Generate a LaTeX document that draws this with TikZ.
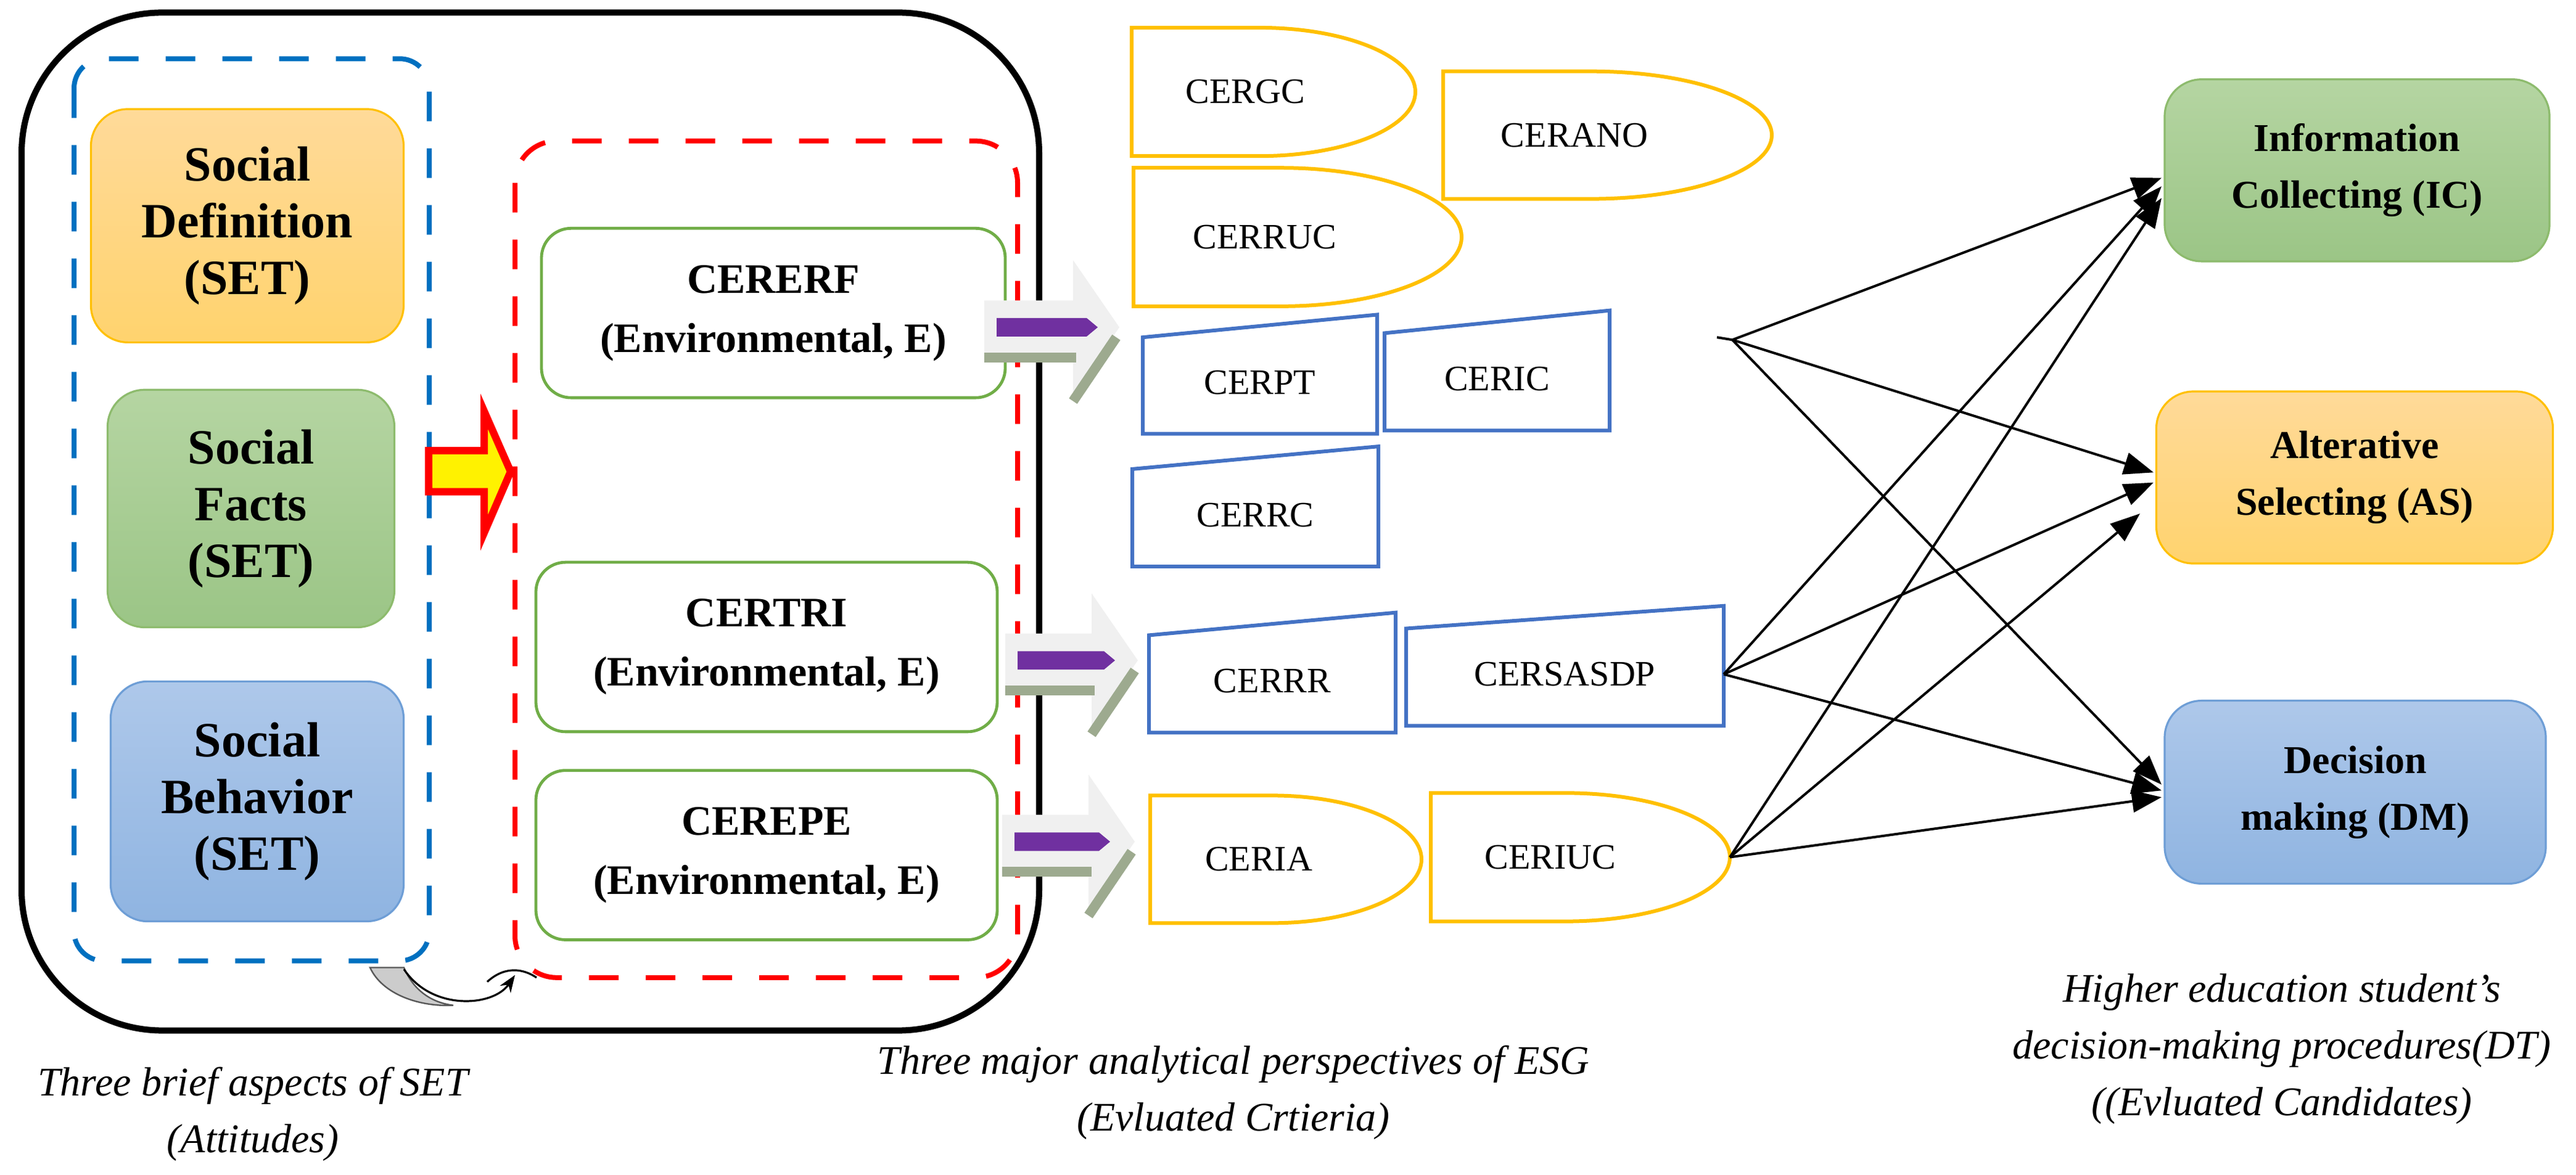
\documentclass[tikz,border=0pt]{standalone}
\usepackage{fontspec}
\setmainfont{Liberation Serif}
\usetikzlibrary{arrows.meta}
\definecolor{ygold}{HTML}{FFC000}
\definecolor{bblue}{HTML}{4472C4}
\definecolor{gedge}{HTML}{70AD47}
\definecolor{purp}{HTML}{7030A0}
\definecolor{shad}{HTML}{9DAA8F}
\newcommand{\dsh}[6]{%
 \pgfmathsetmacro\xa{#2+0.45*(#4-#2)}\pgfmathsetmacro\rr{#4-\xa}%
 \pgfmathsetmacro\ym{(#3+#5)/2}\pgfmathsetmacro\hh{(#5-#3)/2}%
 \draw[dbox] (#2,#3) -- (\xa,#3) .. controls ({\xa+0.5523*\rr},#3) and (#4,{\ym-0.5523*\hh}) .. (#4,\ym)
   .. controls (#4,{\ym+0.5523*\hh}) and ({\xa+0.5523*\rr},#5) .. (\xa,#5) -- (#2,#5) -- cycle;
 \node[lab] (#1) at ({#2+0.4*(#4-#2)},\ym) {#6};
 \coordinate (#1-r) at (#4,\ym);}
\newcommand{\tsh}[6]{%
 \draw[tbox] (#2,{#3+27}) -- (#4,#3) -- (#4,#5) -- (#2,#5) -- cycle;
 \node[lab] (#1) at ({(#2+#4)/2},{(#3+#5)/2+10}) {#6};
 \coordinate (#1-r) at (#4,{(#3+#5)/2+10});}
\newcommand{\garr}[4]{% x0, y, tip, purple end
 \fill[gray!12] (#1,{#2-32}) -- ({#3-75},{#2-32}) -- ({#3-75},{#2-80}) -- (#3,#2) -- ({#3-75},{#2+80}) -- ({#3-75},{#2+32}) -- (#1,{#2+32}) -- cycle;
 \draw[shad,line width=4pt] (#1,{#2+36}) -- ({#3-70},{#2+36});
 \draw[shad,line width=4pt] ({#3-75},{#2+88}) -- ({#3-5},{#2+12});
 \fill[purp] ({#1+20},{#2-11}) -- ({#4-18},{#2-11}) -- (#4,#2) -- ({#4-18},{#2+11}) -- ({#1+20},{#2+11}) -- cycle;}
\begin{document}
\begin{tikzpicture}[x=0.25pt,y=-0.3403pt,
 sbox/.style={rounded corners=15pt,line width=0.8pt,align=center,font=\fontsize{20}{23}\selectfont\bfseries},
 dbx/.style={sbox,font=\fontsize{16}{23}\selectfont\bfseries},
 ebox/.style={draw=gedge,rounded corners=12pt,line width=1.2pt,align=center,minimum width=187pt,minimum height=68.7pt,font=\fontsize{17}{24}\selectfont\bfseries},
 dbox/.style={draw=ygold,line width=1.5pt},
 tbox/.style={draw=bblue,line width=1.5pt},
 lab/.style={font=\fontsize{14.5}{17}\selectfont},
 captxt/.style={font=\fontsize{16.5}{23}\selectfont\itshape,align=center},
 con/.style={line width=1pt,-{Triangle[length=12pt,width=9pt]}}]
\useasboundingbox (0,0) rectangle (4177,1400);
% outer boxes
\draw[line width=2.5pt,rounded corners=57pt] (35,15) rectangle (1685,1228);
\draw[draw={rgb,255:red,0;green,112;blue,192},line width=2pt,dash pattern=on 12pt off 11pt,rounded corners=12pt] (120,70) rectangle (696,1145);
\draw[red,line width=2pt,dash pattern=on 12pt off 11pt,rounded corners=17pt] (835,168) rectangle (1650,1165);
% social boxes
\node[sbox,draw=ygold,top color={rgb,255:red,255;green,218;blue,153},bottom color={rgb,255:red,255;green,211;blue,110},minimum width=126.75pt,minimum height=94.6pt] (sd) at (401,269) {Social\\Definition\\(SET)};
\node[sbox,draw={rgb,255:red,141;green,187;blue,109},top color={rgb,255:red,181;green,213;blue,162},bottom color={rgb,255:red,155;green,197;blue,134},minimum width=116.25pt,minimum height=96.3pt] (sf) at (407,606) {Social\\Facts\\(SET)};
\node[sbox,draw={rgb,255:red,110;green,158;blue,214},top color={rgb,255:red,174;green,200;blue,234},bottom color={rgb,255:red,143;green,180;blue,225},minimum width=118.75pt,minimum height=97.3pt] (sb) at (417,955) {Social\\Behavior\\(SET)};
% E boxes
\node[ebox,minimum width=188pt] (e1) at (1254,373) {CERERF\\(Environmental, E)};
\node[ebox] (e2) at (1243,771) {CERTRI\\(Environmental, E)};
\node[ebox] (e3) at (1243,1019) {CEREPE\\(Environmental, E)};
% yellow arrow
\draw[red,fill=yellow,line width=3pt,line join=miter] (695,537)--(785,537)--(785,490)--(828,562)--(785,635)--(785,586)--(695,586)--cycle;
% curved grey arrow
\draw[fill=gray!40,draw=gray!70!black,line width=0.6pt] (600,1153) -- (655,1153) .. controls (670,1180) and (700,1195) .. (735,1198) .. controls (680,1200) and (620,1185) .. (600,1153) -- cycle;
\draw[line width=0.8pt,-{Stealth[length=7pt]}] (655,1155) .. controls (700,1205) and (800,1200) .. (835,1162);
\draw[line width=0.8pt] (790,1170) .. controls (820,1150) and (850,1155) .. (870,1165);
% block arrows
\garr{1596}{390}{1815}{1780}
\garr{1630}{787}{1845}{1808}
\garr{1625}{1003}{1840}{1800}
% criteria shapes
\dsh{gc}{1835}{33}{2295}{186}{CERGC}
\dsh{ano}{2340}{85}{2873}{237}{CERANO}
\dsh{ruc}{1838}{200}{2370}{365}{CERRUC}
\tsh{pt}{1853}{375}{2233}{517}{CERPT}
\tsh{ic}{2245}{370}{2610}{513}{CERIC}
\tsh{rc}{1836}{532}{2235}{675}{CERRC}
\tsh{rr}{1863}{730}{2263}{873}{CERRR}
\tsh{sasdp}{2280}{722}{2795}{865}{CERSASDP}
\dsh{ia}{1865}{948}{2305}{1100}{CERIA}
\dsh{iuc}{2320}{945}{2805}{1098}{CERIUC}
% DT boxes
\node[dbx,draw={rgb,255:red,141;green,187;blue,109},top color={rgb,255:red,181;green,213;blue,162},bottom color={rgb,255:red,155;green,197;blue,134},minimum width=156pt,minimum height=73.8pt] (IC) at (3822,203) {Information\\Collecting (IC)};
\node[dbx,draw=ygold,top color={rgb,255:red,255;green,218;blue,153},bottom color={rgb,255:red,255;green,211;blue,110},minimum width=160.75pt,minimum height=69.75pt] (AS) at (3818,569) {Alterative\\Selecting (AS)};
\node[dbx,draw={rgb,255:red,110;green,158;blue,214},top color={rgb,255:red,174;green,200;blue,234},bottom color={rgb,255:red,143;green,180;blue,225},minimum width=154.5pt,minimum height=74.2pt] (DM) at (3819,944) {Decision\\making (DM)};
% connectors
\coordinate (s1) at (2809,405);
\coordinate (ic1) at (3505,212); \coordinate (ic2) at (3505,222); \coordinate (ic3) at (3505,236);
\coordinate (as1) at (3492,563); \coordinate (as2) at (3492,575); \coordinate (as3) at (3470,612);
\coordinate (dm1) at (3505,935); \coordinate (dm2) at (3505,942); \coordinate (dm3) at (3505,950);
\draw[line width=1pt] (s1) -- ++(-25,-3);
\draw[con] (s1) -- (ic1); \draw[con] (s1) -- (as1); \draw[con] (s1) -- (dm1);
\draw[con] (sasdp-r) -- (ic2); \draw[con] (sasdp-r) -- (as2); \draw[con] (sasdp-r) -- (dm2);
\draw[con] (iuc-r) -- (ic3); \draw[con] (iuc-r) -- (as3); \draw[con] (iuc-r) -- (dm3);
% captions
\node[captxt] (c1) at (410,1328) {Three brief aspects of SET\\(Attitudes)};
\node[captxt] (c2) at (2000,1302) {Three major analytical perspectives of ESG\\(Evluated Crtieria)};
\node[captxt] (c3) at (3700,1250) {Higher education student's\\decision-making procedures(DT)\\((Evluated Candidates)};
\end{tikzpicture}
\end{document}
